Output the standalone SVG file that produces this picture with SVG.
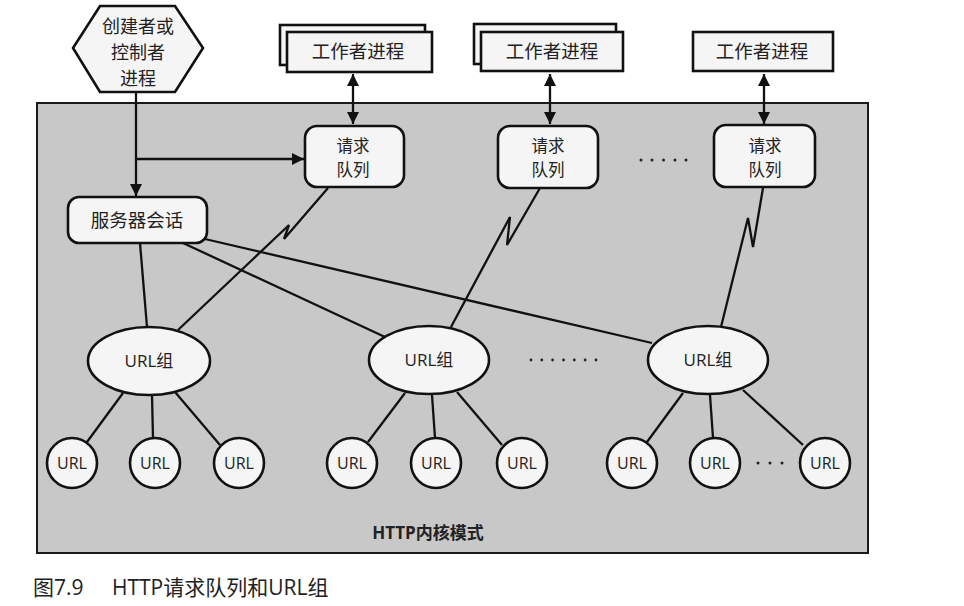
<svg xmlns="http://www.w3.org/2000/svg" width="964" height="606" viewBox="0 0 964 606">
<style>
.t{font-family:"Noto Sans CJK SC","Liberation Sans",sans-serif;fill:#222;text-anchor:middle}
.u{font-family:"Open Sans","Noto Sans CJK SC",sans-serif;fill:#222;text-anchor:middle}
.n{fill:#f5f5f5;stroke:#111;stroke-width:2.6}
.c{fill:none;stroke:#111;stroke-width:2.3}
.d{fill:#222}
</style>
<defs>
<marker id="ah" markerUnits="userSpaceOnUse" markerWidth="12" markerHeight="12" refX="10" refY="5" orient="auto-start-reverse" viewBox="0 0 10 10">
<path d="M0,0 L10,5 L0,10 z" fill="#111"/>
</marker>
</defs>
<rect width="964" height="606" fill="#ffffff"/>
<g id="panel">
<rect x="37" y="103" width="831" height="450" fill="#c8c8c8" stroke="#1a1a1a" stroke-width="2"/>
<text class="u" x="428" y="539" font-size="17" font-weight="bold">HTTP内核模式</text>
</g>
<g id="connectors">
<line class="c" x1="136" y1="92" x2="136" y2="196" marker-end="url(#ah)"/>
<line class="c" x1="136" y1="159" x2="304" y2="159" marker-end="url(#ah)"/>
<line class="c" x1="353" y1="74" x2="353" y2="124" marker-start="url(#ah)" marker-end="url(#ah)"/>
<line class="c" x1="550" y1="74" x2="550" y2="124" marker-start="url(#ah)" marker-end="url(#ah)"/>
<line class="c" x1="764" y1="74" x2="764" y2="124" marker-start="url(#ah)" marker-end="url(#ah)"/>
<polyline class="c" points="328,188 284,239 289,225 178,330"/>
<polyline class="c" points="540,188 507,245 510,217 451,327"/>
<polyline class="c" points="763,188 753,247 748,218 721,327"/>
<line class="c" x1="140" y1="243" x2="147" y2="327"/>
<line class="c" x1="183" y1="243" x2="385" y2="337"/>
<line class="c" x1="205" y1="239" x2="652" y2="343"/>
<line class="c" x1="123" y1="393" x2="87" y2="442"/>
<line class="c" x1="152" y1="395" x2="153" y2="438"/>
<line class="c" x1="175" y1="392" x2="220" y2="445"/>
<line class="c" x1="405" y1="393" x2="368" y2="442"/>
<line class="c" x1="432" y1="395" x2="435" y2="438"/>
<line class="c" x1="457" y1="392" x2="502" y2="445"/>
<line class="c" x1="683" y1="393" x2="647" y2="442"/>
<line class="c" x1="710" y1="395" x2="713" y2="438"/>
<line class="c" x1="743" y1="390" x2="803" y2="445"/>
</g>
<g id="dots">
<circle class="d" cx="641" cy="160" r="1.5"/><circle class="d" cx="652" cy="160" r="1.5"/><circle class="d" cx="663.5" cy="160" r="1.5"/><circle class="d" cx="675" cy="160" r="1.5"/><circle class="d" cx="686" cy="160" r="1.5"/>
<circle class="d" cx="531" cy="360" r="1.4"/><circle class="d" cx="541.8" cy="360" r="1.4"/><circle class="d" cx="552.6" cy="360" r="1.4"/><circle class="d" cx="563.5" cy="360" r="1.4"/><circle class="d" cx="574.3" cy="360" r="1.4"/><circle class="d" cx="585.1" cy="360" r="1.4"/><circle class="d" cx="596" cy="360" r="1.4"/>
<circle class="d" cx="758" cy="463" r="1.5"/><circle class="d" cx="770" cy="463" r="1.5"/><circle class="d" cx="782" cy="463" r="1.5"/>
</g>
<g id="creator">
<polygon class="n" points="100,6 175,6 203,48 175,92 100,92 73,48"/>
<text class="t" x="138" y="33" font-size="18">创建者或</text>
<text class="t" x="138" y="59" font-size="18">控制者</text>
<text class="t" x="138" y="85" font-size="18">进程</text>
</g>
<g id="worker1">
<rect class="n" x="280" y="25" width="145" height="40" stroke-width="2.2"/>
<rect class="n" x="287" y="32" width="145" height="40" stroke-width="2.2"/>
<text class="t" x="358" y="58" font-size="18.5">工作者进程</text>
</g>
<g id="worker2">
<rect class="n" x="474" y="24" width="142" height="40" stroke-width="2.2"/>
<rect class="n" x="481" y="32" width="142" height="39" stroke-width="2.2"/>
<text class="t" x="552" y="58" font-size="18.5">工作者进程</text>
</g>
<g id="worker3">
<rect class="n" x="693" y="32" width="140" height="39" stroke-width="2.2"/>
<text class="t" x="762" y="58" font-size="18.5">工作者进程</text>
</g>
<g id="queue1">
<rect class="n" x="305" y="126" width="99" height="61" rx="12"/>
<text class="t" x="353" y="152" font-size="16.5">请求</text>
<text class="t" x="353" y="176" font-size="16.5">队列</text>
</g>
<g id="queue2">
<rect class="n" x="498" y="126" width="100" height="62" rx="12"/>
<text class="t" x="548" y="152" font-size="16.5">请求</text>
<text class="t" x="548" y="176" font-size="16.5">队列</text>
</g>
<g id="queue3">
<rect class="n" x="714" y="125" width="101" height="62" rx="12"/>
<text class="t" x="765" y="152" font-size="16.5">请求</text>
<text class="t" x="765" y="176" font-size="16.5">队列</text>
</g>
<g id="session">
<rect class="n" x="68" y="197" width="139" height="46" rx="11"/>
<text class="t" x="137" y="227" font-size="18.5">服务器会话</text>
</g>
<g id="group1">
<ellipse class="n" cx="149" cy="361" rx="61" ry="34"/>
<text class="u" x="149" y="367" font-size="17">URL组</text>
</g>
<g id="group2">
<ellipse class="n" cx="429" cy="360" rx="60" ry="34"/>
<text class="u" x="429" y="366" font-size="17">URL组</text>
</g>
<g id="group3">
<ellipse class="n" cx="708" cy="360" rx="60" ry="34"/>
<text class="u" x="708" y="366" font-size="17">URL组</text>
</g>
<g id="url1"><circle class="n" cx="72" cy="463" r="25"/><text class="u" x="72" y="469" font-size="16">URL</text></g>
<g id="url2"><circle class="n" cx="155" cy="463" r="25"/><text class="u" x="155" y="469" font-size="16">URL</text></g>
<g id="url3"><circle class="n" cx="239" cy="463" r="25"/><text class="u" x="239" y="469" font-size="16">URL</text></g>
<g id="url4"><circle class="n" cx="352" cy="463" r="25"/><text class="u" x="352" y="469" font-size="16">URL</text></g>
<g id="url5"><circle class="n" cx="436" cy="463" r="25"/><text class="u" x="436" y="469" font-size="16">URL</text></g>
<g id="url6"><circle class="n" cx="522" cy="463" r="25"/><text class="u" x="522" y="469" font-size="16">URL</text></g>
<g id="url7"><circle class="n" cx="632" cy="463" r="25"/><text class="u" x="632" y="469" font-size="16">URL</text></g>
<g id="url8"><circle class="n" cx="715" cy="463" r="25"/><text class="u" x="715" y="469" font-size="16">URL</text></g>
<g id="url9"><circle class="n" cx="825" cy="463" r="25"/><text class="u" x="825" y="469" font-size="16">URL</text></g>
<g id="caption">
<text x="33" y="595" font-size="21" font-family="Open Sans, Noto Sans CJK SC, sans-serif" fill="#222">图7.9</text>
<text x="112" y="595" font-size="21" font-family="Open Sans, Noto Sans CJK SC, sans-serif" fill="#222">HTTP请求队列和URL组</text>
</g>
</svg>
